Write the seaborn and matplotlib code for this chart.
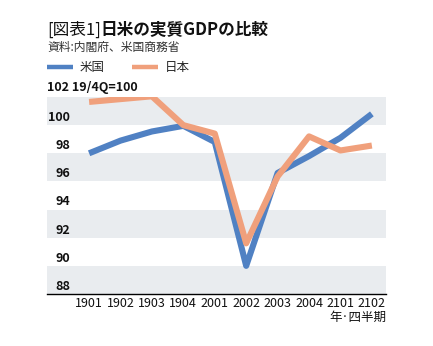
import matplotlib
matplotlib.use("Agg")
import matplotlib.pyplot as plt
import seaborn as sns
import pandas as pd
from matplotlib.lines import Line2D

quarters = ["1901", "1902", "1903", "1904", "2001", "2002", "2003", "2004", "2101", "2102"]
us = [98.0, 98.9, 99.55, 99.95, 98.8, 90.0, 96.6, 97.8, 99.1, 100.8]
japan = [101.65, 101.85, 102.05, 100.0, 99.4, 91.6, 96.35, 99.2, 98.2, 98.55]
series = ["米国", "日本"]
colors = ["#5081c3", "#f0a07c"]
yticks = [88, 90, 92, 94, 96, 98, 100, 102]
title_a = "[図表1]"
title_b = "日米の実質GDPの比較"
source = "資料:内閣府、米国商務省"
unit = "19/4Q=100"
xlabel = "年·四半期"

sns.set_theme(style="white")
plt.rcParams['font.family'] = ['Noto Sans CJK JP', 'DejaVu Sans']

df = pd.DataFrame({
    "idx": list(range(len(quarters))) * 2,
    "value": us + japan,
    "country": [series[0]] * len(us) + [series[1]] * len(japan),
})

W, H = 433, 346
fig = plt.figure(figsize=(W / 100, H / 100), dpi=100)
ax = fig.add_axes([47 / W, 1 - 294 / H, (386 - 47) / W, (294 - 97) / H])

for lo in yticks[:-1:2]:
    ax.axhspan(lo, lo + 2, color="#e9ecef", lw=0, zorder=0)

sns.lineplot(data=df, x="idx", y="value", hue="country", hue_order=series,
             palette=colors, linewidth=4.4, ax=ax, legend=False,
             solid_joinstyle="round", solid_capstyle="butt")

ax.set_xlim(-1.34, 9.45)
ax.set_ylim(88, 102)
for s in ("top", "right", "left"):
    ax.spines[s].set_visible(False)
ax.spines["bottom"].set_color("black")
ax.spines["bottom"].set_linewidth(1.0)
ax.set_xticks(range(len(quarters)))
ax.set_xticklabels(quarters, fontsize=9, color="#111111")
ax.tick_params(axis="x", length=0, pad=2)
ax.set_yticks([])
ax.set_xlabel("")
ax.set_ylabel("")

for v in yticks[:-1]:
    ax.annotate(str(v), xy=(-0.6, v), xycoords="data", xytext=(0, 5.5),
                textcoords="offset points", ha="right", va="center",
                fontsize=9, fontweight="bold", color="#111111")
ax.annotate(f"{yticks[-1]} {unit}", xy=(0, yticks[-1]), xycoords=("axes fraction", "data"),
            xytext=(0, 6.5), textcoords="offset points", ha="left", va="center",
            fontsize=9, fontweight="bold", color="#111111", annotation_clip=False)

t1 = fig.text(47 / W, 1 - 30 / H, title_a, fontsize=12, va="center", ha="left", color="#111111")
ax.annotate(title_b, xy=(1, 0.5), xycoords=t1, ha="left", va="center",
            fontsize=12, fontweight="bold", color="#111111", annotation_clip=False)
fig.text(47 / W, 1 - 47 / H, source, fontsize=8.5, va="center", ha="left", color="#333333")

handles = [Line2D([0], [0], color=c, lw=3.2, solid_capstyle="butt") for c in colors]
fig.legend(handles, series, loc="center left", bbox_to_anchor=(47 / W, 1 - 68 / H),
           ncol=2, frameon=False, fontsize=9, handlelength=2.1, handletextpad=0.5,
           columnspacing=2.2, borderpad=0, borderaxespad=0)

fig.text(386 / W, 1 - 317 / H, xlabel, fontsize=9, va="center", ha="right", color="#111111")

fig.savefig("out.png", dpi=100)
